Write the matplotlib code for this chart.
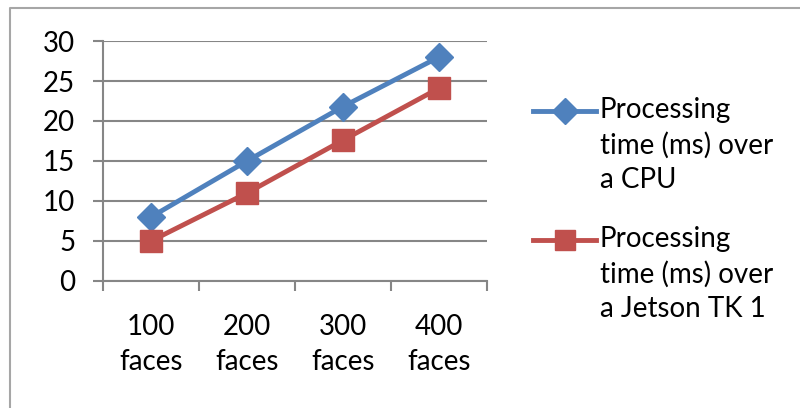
import matplotlib.pyplot as plt
from matplotlib.lines import Line2D

plt.rcParams['font.family'] = ['Lato', 'DejaVu Sans']

# data
categories = ["100\nfaces", "200\nfaces", "300\nfaces", "400\nfaces"]
cpu_ms = [8, 15, 21.8, 28]
jetson_ms = [5, 11, 17.6, 24.1]
cpu_label = "Processing\ntime (ms) over\na CPU"
jetson_label = "Processing\ntime (ms) over\na Jetson TK 1"

blue = '#4F81BD'
red = '#C0504D'
grey = '#868686'
fs = 20

fig = plt.figure(figsize=(8, 4.08), dpi=100)
ax = fig.add_axes([0.12875, 0.3113, 0.48, 0.5882])

x = list(range(1, len(categories) + 1))
ax.plot(x, cpu_ms, color=blue, lw=3.5, marker='D', ms=14, zorder=3)
ax.plot(x, jetson_ms, color=red, lw=3.5, marker='s', ms=16, zorder=3)

ax.set_xlim(0.5, len(categories) + 0.5)
ax.set_ylim(0, 30)
ax.set_yticks(range(0, 31, 5))
ax.set_xticks(x)
ax.set_xticklabels(categories, fontsize=fs, linespacing=1.4)
ax.set_xticks([i + 0.5 for i in range(len(categories) + 1)], minor=True)
ax.tick_params(axis='x', which='major', length=0, pad=24)
ax.tick_params(axis='x', which='minor', length=7, width=1.5, color=grey, direction='out')
ax.tick_params(axis='y', length=7, width=1.5, color=grey, labelsize=fs, pad=13)
ax.yaxis.grid(True, color=grey, lw=1.5)
ax.set_axisbelow(True)
for side in ['top', 'right']:
    ax.spines[side].set_visible(False)
for side in ['left', 'bottom']:
    ax.spines[side].set_color(grey)
    ax.spines[side].set_linewidth(1.5)

# legend drawn by hand so the marker sits on the first text line
W, H = 800, 408
def legend_entry(y, color, marker, ms, label):
    yf = 1 - y / H
    fig.add_artist(Line2D([533 / W, 596 / W], [yf, yf], color=color, lw=3.5,
                          transform=fig.transFigure))
    fig.add_artist(Line2D([564.5 / W], [yf], color=color, marker=marker, ms=ms,
                          lw=0, transform=fig.transFigure))
    fig.text(600 / W, 1 - (y - 14) / H, label, fontsize=fs, va='top', ha='left',
             linespacing=1.4)

legend_entry(111, blue, 'D', 13, cpu_label)
legend_entry(240, red, 's', 15, jetson_label)

# outer chart border
fig.add_artist(Line2D([10 / W, 10 / W, 1], [0, 1 - 8 / H, 1 - 8 / H], color='#A6A6A6',
                      lw=1.5, transform=fig.transFigure))

fig.savefig('out.png', dpi=100, facecolor='white')
